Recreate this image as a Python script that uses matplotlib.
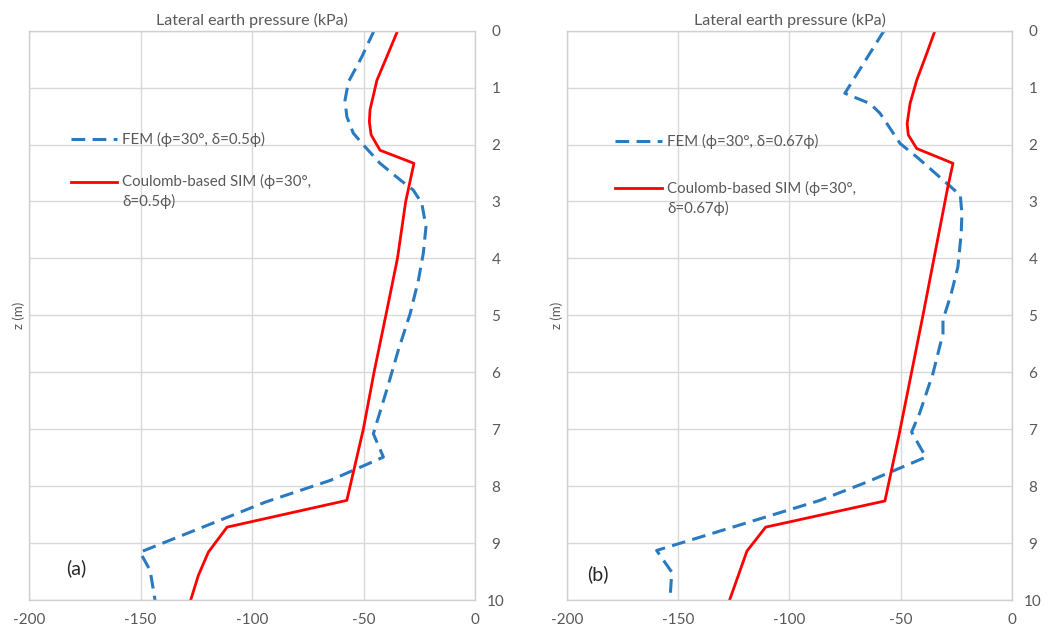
import matplotlib
matplotlib.use("Agg")
import matplotlib.pyplot as plt
import numpy as np
from matplotlib.legend_handler import HandlerLine2D

plt.rcParams['font.family'] = ['Lato', 'DejaVu Sans']
plt.rcParams['axes.unicode_minus'] = False

# depth (m) and lateral earth pressure (kPa)
z_fem_a = [0, 0.46, 0.63, 0.9, 1.22, 1.51, 1.8, 2.04, 2.33, 2.62, 2.8, 3.03, 3.44, 3.91,
           4.38, 4.97, 5.61, 6.31, 7.08, 7.49, 7.9, 8.28, 9.16, 9.48, 10.0]
p_fem_a = [-45.3, -50.8, -53.1, -56.8, -58.3, -57.5, -54.6, -49.3, -42.6, -33.6, -27.7, -23.9,
           -22.0, -23.2, -25.4, -29.1, -34.4, -39.6, -45.6, -41.1, -65.0, -94.0, -150.2, -145.7,
           -143.5]
z_sim_a = [0, 0.46, 0.87, 1.39, 1.6, 1.83, 2.1, 2.33, 3.0, 4.0, 5.0, 6.0, 7.0, 8.25, 8.72,
           9.16, 9.57, 10.0]
p_sim_a = [-34.7, -39.6, -44.0, -47.1, -47.4, -46.6, -42.6, -27.4, -31.1, -34.8, -40.0, -45.3,
           -50.1, -57.5, -111.2, -119.6, -124.1, -127.5]

z_fem_b = [0, 1.1, 1.28, 1.45, 1.98, 2.24, 2.65, 2.89, 3.21, 3.56, 4.15, 4.62, 5.08, 5.32,
           6.02, 6.72, 7.05, 7.49, 7.93, 8.25, 9.13, 9.51, 10.0]
p_fem_b = [-57.5, -75.1, -63.8, -59.3, -50.3, -42.1, -30.2, -23.2, -22.5, -22.8, -24.3, -27.3,
           -31.0, -31.0, -35.5, -41.5, -45.1, -38.7, -65.3, -86.3, -159.7, -152.9, -153.7]
z_sim_b = [0, 0.4, 0.87, 1.28, 1.63, 1.83, 2.07, 2.33, 2.74, 5.0, 7.13, 8.26, 8.72, 9.14, 10.0]
p_sim_b = [-34.6, -38.3, -42.8, -45.8, -47.1, -46.6, -42.8, -26.5, -28.8, -40.0, -50.9, -57.1,
           -110.7, -119.1, -126.9]

x_ticks = [-200, -150, -100, -50, 0]
z_ticks = list(range(0, 11))

panels = [
    ("(a)", "0.5ϕ", z_fem_a, p_fem_a, z_sim_a, p_sim_a),
    ("(b)", "0.67ϕ", z_fem_b, p_fem_b, z_sim_b, p_sim_b),
]

text_col = '#595959'
grid_col = '#D9D9D9'
blue = '#2a7ac0'
red = '#ff0000'
leg_fs = 10.8
leg_ls = 1.4


class FirstLineHandler(HandlerLine2D):
    # put the line sample level with the first line of a two-line label
    def create_artists(self, legend, orig_handle, xdescent, ydescent, width, height,
                       fontsize, trans):
        arts = super().create_artists(legend, orig_handle, xdescent, ydescent, width,
                                      height, fontsize, trans)
        for a in arts:
            a.set_ydata(np.asarray(a.get_ydata()) + 0.5 * leg_ls * fontsize)
        return arts


fig = plt.figure(figsize=(10.48, 6.29), dpi=100)
axes_pos = [[0.0277, 0.0461, 0.4256, 0.9051], [0.5410, 0.0461, 0.4246, 0.9051]]
tag_pos = [(0.105, 0.055), (0.07, 0.045)]
leg_pos = [(0.08, 0.832), (0.095, 0.829)]
leg_space = [1.8, 2.1]

for i, (tag, delta, zf, pf, zs, ps) in enumerate(panels):
    ax = fig.add_axes(axes_pos[i])
    fem, = ax.plot(pf, zf, color=blue, lw=2.2, linestyle=(0, (4.5, 2.4)))
    sim, = ax.plot(ps, zs, color=red, lw=2.0)

    ax.set_xlim(-200, 0)
    ax.set_ylim(10, 0)
    ax.set_xticks(x_ticks)
    ax.set_yticks(z_ticks)
    ax.grid(True, color=grid_col, lw=1.0)
    ax.set_axisbelow(True)
    for s in ax.spines.values():
        s.set_color('#D0D0D0')
        s.set_linewidth(1.0)

    ax.yaxis.tick_right()
    ax.yaxis.set_label_position('left')
    ax.tick_params(axis='both', length=0, labelsize=11, colors=text_col)
    ax.tick_params(axis='x', pad=9)
    ax.tick_params(axis='y', pad=15)
    for lab in ax.get_yticklabels():
        lab.set_horizontalalignment('center')
    ax.set_ylabel('z (m)', fontsize=9.5, color=text_col, labelpad=3)
    ax.set_title('Lateral earth pressure (kPa)', fontsize=11.5, color=text_col, pad=4)

    leg = ax.legend([fem, sim],
                    ["FEM (ϕ=30°, δ=%s)" % delta,
                     "Coulomb-based SIM (ϕ=30°,\nδ=%s)" % delta],
                    handler_map={sim: FirstLineHandler()},
                    loc='upper left', bbox_to_anchor=leg_pos[i], frameon=False,
                    fontsize=leg_fs, handlelength=3.1, handletextpad=0.35,
                    labelspacing=leg_space[i], borderaxespad=0)
    for t in leg.get_texts():
        t.set_color(text_col)
        t.set_linespacing(leg_ls)

    ax.text(tag_pos[i][0], tag_pos[i][1], tag, transform=ax.transAxes, fontsize=14,
            color='#262626', ha='center', va='center')

fig.savefig('out.png', dpi=100)
